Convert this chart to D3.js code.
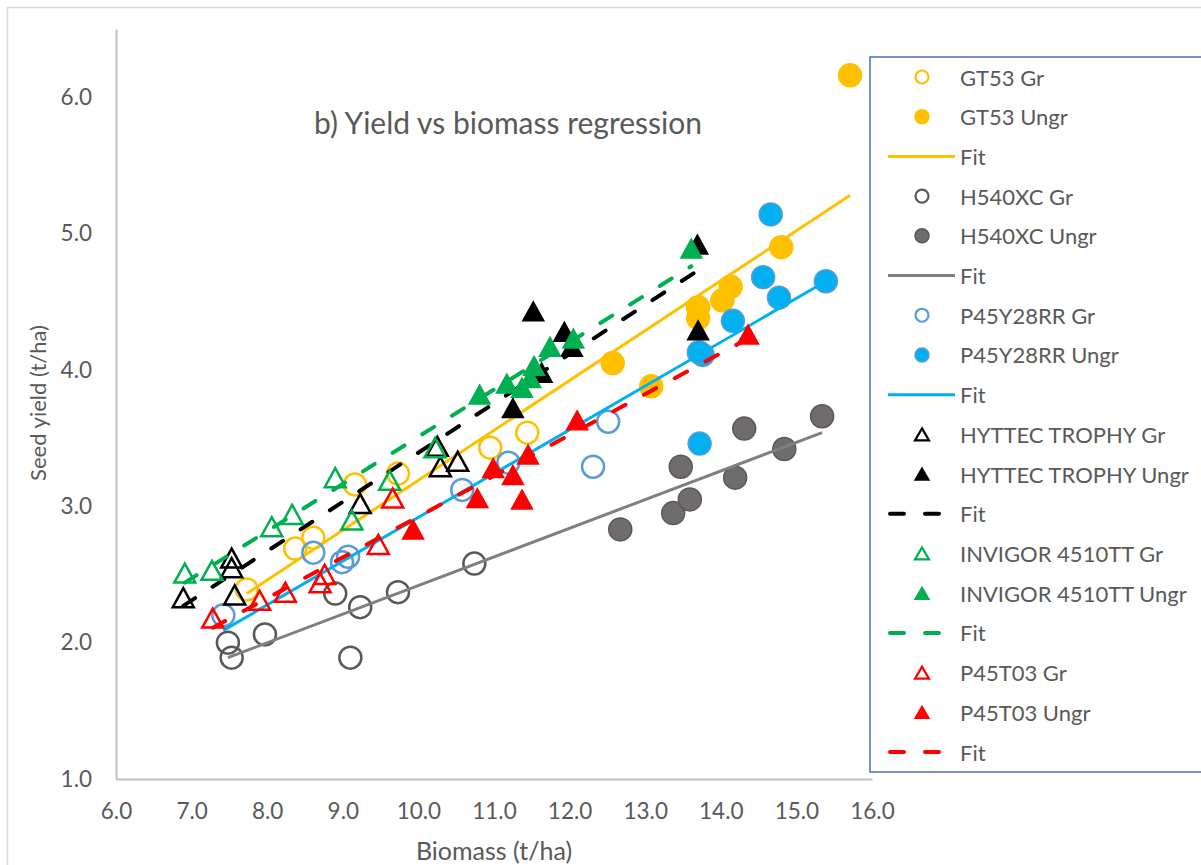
<!DOCTYPE html>
<html>
<head>
<meta charset="utf-8">
<script src="https://cdn.jsdelivr.net/npm/d3@7"></script>
<style>
  body { margin: 0; background: #fff; }
  text { font-family: Lato, "Open Sans", sans-serif; fill: #595959; }
</style>
</head>
<body>
<div id="chart"></div>
<script>
// values: [biomass, seed yield]
const gt53Gr = [[7.73, 2.39], [8.37, 2.69], [8.61, 2.77], [9.16, 3.16], [9.73, 3.24], [10.95, 3.43], [11.44, 3.54]];
const gt53Ungr = [[12.57, 4.05], [13.08, 3.88], [13.70, 4.46], [13.70, 4.38], [14.02, 4.51], [14.13, 4.61], [14.80, 4.90], [15.71, 6.16]];
const gt53Fit = [[7.73, 2.36], [15.71, 5.28]];

const h540Gr = [[7.48, 2.00], [7.53, 1.89], [7.97, 2.06], [8.90, 2.36], [9.23, 2.26], [9.10, 1.89], [9.73, 2.37], [10.74, 2.58]];
const h540Ungr = [[12.67, 2.83], [13.37, 2.95], [13.59, 3.05], [13.47, 3.29], [14.19, 3.21], [14.31, 3.57], [14.84, 3.42], [15.34, 3.66]];
const h540Fit = [[7.48, 1.89], [15.34, 3.54]];

const p45yGr = [[7.42, 2.20], [8.61, 2.66], [8.99, 2.59], [9.07, 2.63], [10.58, 3.12], [11.19, 3.32], [12.31, 3.29], [12.51, 3.62]];
const p45yUngr = [[14.66, 5.14], [14.56, 4.68], [14.77, 4.53], [15.39, 4.65], [14.16, 4.36], [13.76, 4.11], [13.71, 4.13], [13.72, 3.46]];
const p45yFit = [[7.42, 2.09], [15.39, 4.65]];

const hyttecGr = [[6.89, 2.33], [7.53, 2.62], [7.53, 2.55], [7.57, 2.35], [9.23, 3.02], [10.25, 3.44], [10.29, 3.29], [10.52, 3.33]];
const hyttecUngr = [[11.52, 4.43], [11.93, 4.28], [12.03, 4.17], [11.63, 3.98], [11.25, 3.72], [13.69, 4.92], [13.70, 4.29]];
const hyttecFit = [[6.89, 2.27], [13.70, 4.73]];

const invigorGr = [[6.91, 2.51], [7.27, 2.53], [8.06, 2.85], [8.33, 2.94], [8.90, 3.21], [9.12, 2.90], [9.62, 3.19], [10.22, 3.43]];
const invigorUngr = [[10.81, 3.82], [11.17, 3.90], [11.37, 3.87], [11.48, 3.94], [11.53, 4.03], [11.74, 4.17], [12.05, 4.23], [13.61, 4.89]];
const invigorFit = [[6.91, 2.44], [13.61, 4.76]];

const p45tGr = [[7.28, 2.18], [7.90, 2.31], [8.24, 2.37], [8.76, 2.50], [8.70, 2.44], [9.47, 2.72], [9.66, 3.06]];
const p45tUngr = [[9.93, 2.83], [10.78, 3.06], [10.99, 3.28], [11.25, 3.23], [11.45, 3.38], [11.37, 3.05], [12.10, 3.63], [14.36, 4.26]];
const p45tFit = [[7.28, 2.11], [14.36, 4.23]];

const xTicks = [6, 7, 8, 9, 10, 11, 12, 13, 14, 15, 16];
const yTicks = [1, 2, 3, 4, 5, 6];

// series in Excel drawing order
const series = [
  { name: 'GT53 Gr', type: 'circle', open: true, color: '#FFC000', data: gt53Gr },
  { name: 'GT53 Ungr', type: 'circle', open: false, color: '#FFC000', edge: '#FFC000', data: gt53Ungr },
  { name: 'Fit', type: 'fit', color: '#FFC000', data: gt53Fit },
  { name: 'H540XC Gr', type: 'circle', open: true, color: '#595959', data: h540Gr },
  { name: 'H540XC Ungr', type: 'circle', open: false, color: '#706C6B', edge: '#595959', data: h540Ungr },
  { name: 'Fit', type: 'fit', color: '#7F7F7F', data: h540Fit },
  { name: 'P45Y28RR Gr', type: 'circle', open: true, color: '#5B9BD5', data: p45yGr },
  { name: 'P45Y28RR Ungr', type: 'circle', open: false, color: '#00B0F0', edge: '#5B9BD5', data: p45yUngr },
  { name: 'Fit', type: 'fit', color: '#00B0F0', data: p45yFit },
  { name: 'HYTTEC TROPHY Gr', type: 'triangle', open: true, color: '#000000', data: hyttecGr },
  { name: 'HYTTEC TROPHY Ungr', type: 'triangle', open: false, color: '#000000', edge: '#000000', data: hyttecUngr },
  { name: 'Fit', type: 'fit', dashed: true, color: '#000000', data: hyttecFit },
  { name: 'INVIGOR 4510TT Gr', type: 'triangle', open: true, color: '#00B050', data: invigorGr },
  { name: 'INVIGOR 4510TT Ungr', type: 'triangle', open: false, color: '#00B050', edge: '#00B050', data: invigorUngr },
  { name: 'Fit', type: 'fit', dashed: true, color: '#00B050', data: invigorFit },
  { name: 'P45T03 Gr', type: 'triangle', open: true, color: '#FF0000', data: p45tGr },
  { name: 'P45T03 Ungr', type: 'triangle', open: false, color: '#FF0000', edge: '#FF0000', data: p45tUngr },
  { name: 'Fit', type: 'fit', dashed: true, color: '#FF0000', data: p45tFit }
];

const width = 1201, height = 865;
const plot = { left: 116, right: 872, top: 29, bottom: 779 };

const svg = d3.select('#chart').append('svg')
  .attr('width', width)
  .attr('height', height);

// chart frame
svg.append('rect')
  .attr('x', 7.5).attr('y', 7.5)
  .attr('width', 1220).attr('height', 900)
  .attr('fill', 'none')
  .attr('stroke', '#D9D9D9')
  .attr('stroke-width', 1.5);

const x = d3.scaleLinear().domain([6, 16]).range([plot.left, plot.right]);
const y = d3.scaleLinear().domain([1, 6.5]).range([plot.bottom, plot.top]);

// axes
const xAxis = svg.append('g')
  .attr('transform', `translate(0,${plot.bottom})`)
  .call(d3.axisBottom(x).tickValues(xTicks).tickFormat(d3.format('.1f')).tickSize(0).tickPadding(24));
const yAxis = svg.append('g')
  .attr('transform', `translate(${plot.left},0)`)
  .call(d3.axisLeft(y).tickValues(yTicks).tickFormat(d3.format('.1f')).tickSize(0).tickPadding(24));

xAxis.select('.domain').attr('stroke', '#BFBFBF').attr('stroke-width', 2);
yAxis.select('.domain').attr('stroke', '#BFBFBF').attr('stroke-width', 2);
svg.selectAll('.tick text')
  .attr('fill', '#595959')
  .style('font-family', 'Lato, sans-serif')
  .style('font-size', '22.5px');
xAxis.selectAll('.tick text').attr('dy', '0.32em').attr('y', 33);

// titles
svg.append('text')
  .attr('x', 508).attr('y', 122)
  .attr('text-anchor', 'middle')
  .attr('dominant-baseline', 'central')
  .style('font-size', '30px')
  .text('b) Yield vs biomass regression');

svg.append('text')
  .attr('x', 494).attr('y', 850)
  .attr('text-anchor', 'middle')
  .attr('dominant-baseline', 'central')
  .style('font-size', '25px')
  .text('Biomass (t/ha)');

svg.append('text')
  .attr('transform', 'translate(37,403) rotate(-90)')
  .attr('text-anchor', 'middle')
  .attr('dominant-baseline', 'central')
  .style('font-size', '22px')
  .text('Seed yield (t/ha)');

function triPath(w, h) {
  return `M0,${-h / 2}L${w / 2},${h / 2}L${-w / 2},${h / 2}Z`;
}

const line = d3.line().x(d => x(d[0])).y(d => y(d[1]));

function drawMarkers(g, s, pts, big) {
  const r = big ? 11 : 6.5;
  const sw = big ? 2.5 : 2.2;
  if (s.type === 'circle') {
    g.selectAll(null).data(pts).join('circle')
      .attr('cx', d => d[0]).attr('cy', d => d[1])
      .attr('r', s.open ? r : r + 0.5)
      .attr('fill', s.open ? 'none' : s.color)
      .attr('stroke', s.open ? s.color : s.edge)
      .attr('stroke-width', s.open ? sw : 1.5);
  } else {
    const w = big ? 21 : 14, h = big ? 19 : 12;
    g.selectAll(null).data(pts).join('path')
      .attr('transform', d => `translate(${d[0]},${d[1]})`)
      .attr('d', triPath(w, h))
      .attr('fill', s.open ? 'none' : s.color)
      .attr('stroke', s.open ? s.color : s.edge)
      .attr('stroke-width', s.open ? sw : 1.5)
      .attr('stroke-linejoin', 'miter');
  }
}

function styleFit(sel, s) {
  sel.attr('fill', 'none')
    .attr('stroke', s.color)
    .attr('stroke-width', s.dashed ? 4 : 3)
    .attr('stroke-linecap', s.dashed ? 'round' : 'butt');
  if (s.dashed) sel.attr('stroke-dasharray', '14,21');
}

const marks = svg.append('g');
series.forEach(s => {
  const g = marks.append('g');
  if (s.type === 'fit') {
    g.append('path').datum(s.data).attr('d', line).call(styleFit, s);
  } else {
    drawMarkers(g, s, s.data.map(d => [x(d[0]), y(d[1])]), true);
  }
});

// legend
const legend = svg.append('g');
legend.append('rect')
  .attr('x', 870).attr('y', 57)
  .attr('width', 360).attr('height', 715)
  .attr('fill', '#fff')
  .attr('stroke', '#4472C4')
  .attr('stroke-width', 1.5);

const rowY = d3.scaleLinear().domain([0, series.length - 1]).range([77, 752]);
series.forEach((s, i) => {
  const g = legend.append('g');
  const cy = rowY(i);
  if (s.type === 'fit') {
    g.append('path')
      .attr('d', `M${s.dashed ? 890 : 888},${cy}H${s.dashed ? 945 : 955}`)
      .call(styleFit, s);
  } else {
    drawMarkers(g, s, [[922, cy]], false);
  }
  g.append('text')
    .attr('x', 960).attr('y', cy)
    .attr('dominant-baseline', 'central')
    .style('font-size', '22px')
    .text(s.name);
});
</script>
</body>
</html>
